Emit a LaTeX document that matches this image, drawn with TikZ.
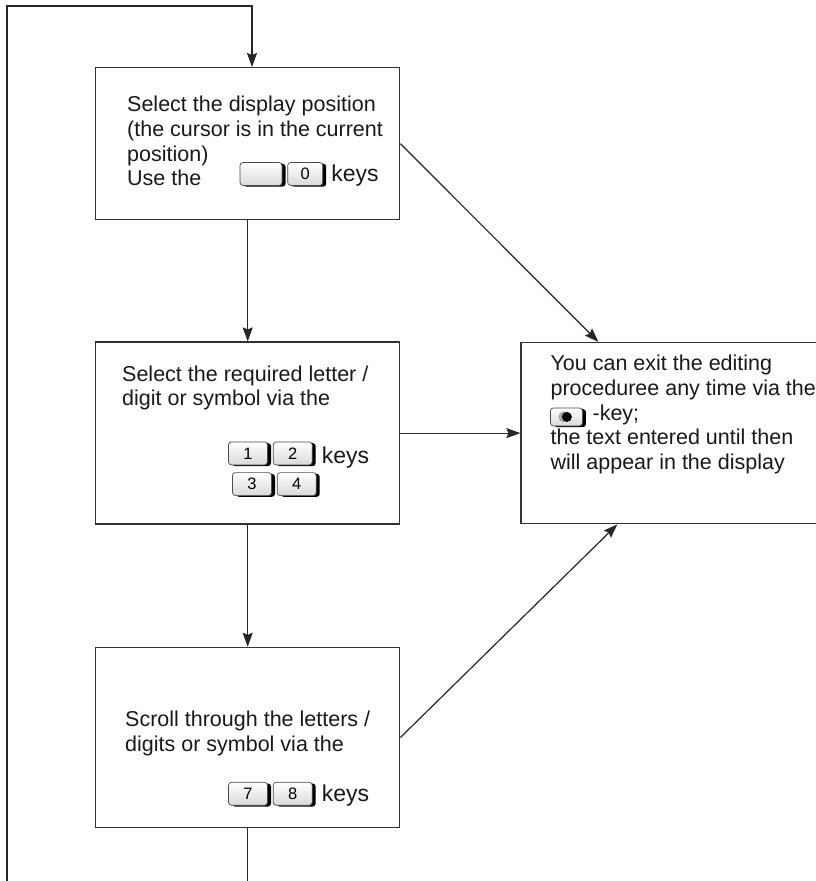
\documentclass[tikz,border=0pt]{standalone}
\usepackage{fontspec}
\setmainfont{Liberation Sans}
\usetikzlibrary{arrows.meta,positioning,shadows}

\begin{document}
\begin{tikzpicture}[x=1pt, y=-1pt,
  box/.style={draw=black!80, line width=1.4pt, anchor=north west, inner sep=0pt},
  txt/.style={align=left, inner sep=0pt, anchor=north west, text=black!90,
              font=\fontsize{21.5}{24.7}\selectfont},
  keyword/.style={txt, font=\fontsize{23}{23}\selectfont},
  keycap/.style={draw=black!70, line width=0.7pt, rounded corners=3pt,
                 minimum width=39pt, minimum height=23pt, inner sep=0pt,
                 top color=white, bottom color=black!15,
                 font=\fontsize{16.5}{16.5}\selectfont,
                 drop shadow={shadow xshift=3.5pt, shadow yshift=-1.2pt, fill=black, opacity=1}},
  conn/.style={line width=1.2pt, draw=black!85},
  arr/.style={conn, -{Stealth[length=14pt, width=10pt, inset=2pt]}},
]
  \useasboundingbox (0,0) rectangle (816,881);
  \clip (0,0) rectangle (816,881);

  % boxes
  \node[box, minimum width=304pt, minimum height=152pt] (sel) at (95,67) {};
  \node[box, minimum width=304pt, minimum height=182pt, below=121pt of sel] (req) {};
  \node[box, minimum width=304pt, minimum height=180pt, below=122pt of req] (scr) {};
  \node[box, minimum width=300pt, minimum height=181pt, right=120pt of req] (ext) {};

  % texts
  \node[txt] (selt) at ([shift={(32,29)}]sel.north west)
    {Select the display position\\(the cursor is in the current\\position)\\Use the};
  \node[txt] (reqt) at ([shift={(27,24)}]req.north west)
    {Select the required letter /\\digit or symbol via the};
  \node[txt] (scrt) at ([shift={(30,64)}]scr.north west)
    {Scroll through the letters /\\digits or symbol via the};
  \node[txt] (extt) at ([shift={(30,13)}]ext.north west)
    {You can exit the editing\\proceduree any time via the\\\hspace*{42pt}-key;\\the text entered until then\\will appear in the display};

  % keys
  \node[keycap, minimum width=42pt] (kblank) at ([shift={(166,107)}]sel.north west) {};
  \node[keycap, minimum width=35pt, right=5pt of kblank] (k0) {0};
  \node[keyword, right=8pt of k0, yshift=-2pt] (selkeys) {keys};

  \node[keycap] (k1) at ([shift={(153,112)}]req.north west) {1};
  \node[keycap, right=5pt of k1] (k2) {2};
  \node[keyword, right=9pt of k2, yshift=-4pt] (reqkeys) {keys};
  \node[keycap, below=7pt of k1, xshift=4pt] (k3) {3};
  \node[keycap, right=5pt of k3] (k4) {4};

  \node[keycap] (k7) at ([shift={(153,147)}]scr.north west) {7};
  \node[keycap, right=5pt of k7] (k8) {8};
  \node[keyword, right=9pt of k8, yshift=-2pt] (scrkeys) {keys};

  \node[keycap, minimum width=32pt, minimum height=18pt] (kdot) at ([shift={(46,75)}]ext.north west) {};
  \fill[black!35] ([xshift=-2.5pt]kdot.center) circle (5.5pt);
  \fill[black] ([xshift=0.5pt]kdot.center) circle (5pt);

  % connectors
  \coordinate (loopin) at (7,881);
  \coordinate (looptop) at (252,6);
  \coordinate (loopout) at (scr.south |- loopin);
  \draw[arr] (loopin) |- (looptop) -- (looptop |- sel.north);
  \draw[arr] (sel) -- (req);
  \draw[arr] (req) -- (scr);
  \draw[conn] (scr) -- (loopout);
  \draw[arr] (req) -- (ext);
  \draw[arr] (sel.east) -- ([xshift=78pt]ext.north west);
  \draw[arr] (scr.east) -- ([xshift=97pt]ext.south west);
\end{tikzpicture}
\end{document}
